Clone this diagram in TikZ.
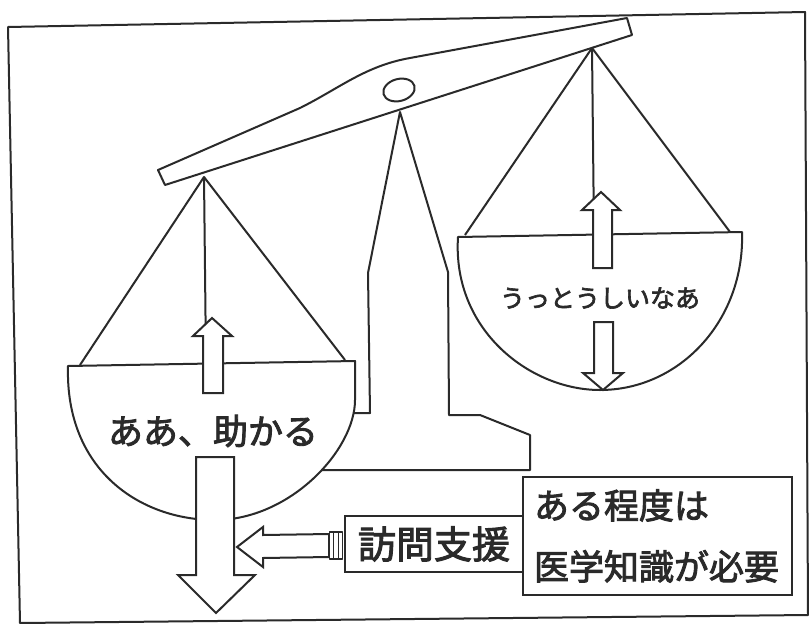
\documentclass[tikz,border=0pt]{standalone}
\usepackage{fontspec}
\newfontfamily\jp[FakeBold=2.5]{Noto Sans CJK JP}
\usetikzlibrary{calc}
\definecolor{ink}{HTML}{2A2A2A}

\begin{document}
\begin{tikzpicture}[x=1pt, y=-1pt,
      inkline/.style = {draw=ink, line width=2pt, line join=round},
      plate/.style = {inkline, fill=white},
      hollow/.style = {inkline, fill=white, line join=miter},
      voice/.style = {text=ink, inner sep=0pt, font=\jp\fontsize{#1pt}{#1pt}\selectfont},
      box/.style = {draw=ink, line width=1.7pt, fill=white}]
    \useasboundingbox (0,0) rectangle (809,624);
    \fill[white] (0,0) rectangle (809,624);
    % frame
    \draw[inkline] (8,27) -- (805,12) -- (808,615) -- (20,623) -- cycle;

    % stand
    \draw[plate] (400,112) -- (368,273) -- (370,413) -- (300,413) -- (300,470)
      -- (530,470) -- (530,435) -- (480,415) -- (449,415) -- (448,272) -- cycle;

    % strings
    \coordinate (lhook) at (204,177);
    \coordinate (rhook) at (592,48);
    \draw[inkline] (80,365) -- (lhook) -- (345,360);
    \draw[inkline] (lhook) -- (206,362);
    \draw[inkline] (465,235) -- (rhook) -- (730,232);
    \draw[inkline] (rhook) -- (594,234);

    % beam and pivot
    \draw[plate] (158,170) -- (300,108) .. controls (340,88) and (365,66) .. (410,58)
      -- (627,18) -- (632,35) -- (165,185) -- cycle;
    \draw[inkline] (399,90) ellipse [x radius=16, y radius=11, rotate=15];

    % pans
    \draw[plate] (68,366) .. controls (65,470) and (140,520) .. (215,520)
      .. controls (290,520) and (355,450) .. (355,400) -- (355,361) -- cycle;
    \draw[plate] (458,237) .. controls (452,330) and (530,390) .. (600,390)
      .. controls (680,390) and (745,320) .. (742,232) -- cycle;

    % hollow arrows
    \draw[hollow] (203,393) -- (203,336) -- (193,336) -- (212,318) -- (232,336)
      -- (223,336) -- (223,393) -- cycle;
    \draw[hollow] (593,268) -- (593,210) -- (582,210) -- (601,192) -- (620,210)
      -- (612,210) -- (612,268) -- cycle;
    \draw[hollow] (594,322) -- (594,373) -- (583,373) -- (603,390) -- (623,373)
      -- (613,373) -- (613,322) -- cycle;
    \draw[hollow] (196,457) -- (196,575) -- (178,575) -- (216,613) -- (255,575)
      -- (234,575) -- (234,457) -- cycle;

    \node[voice=35] (relief) at (213,431) {ああ、助かる};
    \node[voice=25] (burden) at (600,298) {うっとうしいなあ};

    % boxes
    \node[box, voice=38, minimum width=178pt, minimum height=56pt] (visit) at (434,544) {訪問支援};
    \node[box, voice=35, font=\jp\fontsize{35pt}{61pt}\selectfont, align=left,
      text width=247pt, inner xsep=11pt, minimum height=118pt] (advice) at (657.5,536)
      {ある程度は\\医学知識が必要};

    % push from the visit box
    \coordinate (tip) at (237,547);
    \draw[hollow] ($(visit.west)+(-15,-10)$) -- ($(tip)+(26,-12)$) -- ($(tip)+(26,-20)$)
      -- (tip) -- ($(tip)+(26,20)$) -- ($(tip)+(26,11)$) -- ($(visit.west)+(-15,13)$) -- cycle;
    \draw[plate, line width=1.2pt] ($(visit.west)+(-15,-12)$) rectangle ($(visit.west)+(-2,15)$);
    \foreach \dx in {-11,-6}
      \draw[draw=ink, line width=0.9pt] ($(visit.west)+(\dx,-12)$) -- ($(visit.west)+(\dx,15)$);
\end{tikzpicture}
\end{document}
